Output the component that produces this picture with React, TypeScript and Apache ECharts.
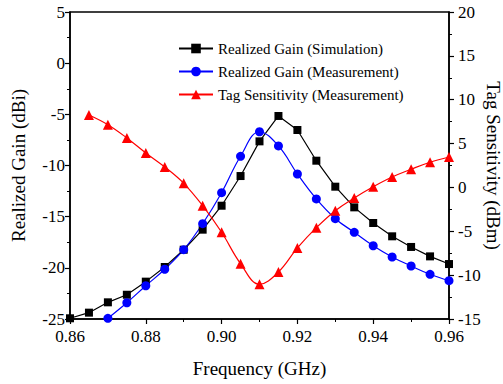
import React, { useEffect, useRef } from "react";
import * as echarts from "echarts";

const simFreq = [0.86, 0.865, 0.87, 0.875, 0.88, 0.885, 0.89, 0.895, 0.9, 0.905, 0.91, 0.915, 0.92, 0.925, 0.93, 0.935, 0.94, 0.945, 0.95, 0.955, 0.96];
const simGain = [-24.93, -24.38, -23.37, -22.63, -21.35, -19.92, -18.23, -16.27, -13.93, -11.03, -7.64, -5.16, -6.53, -9.53, -12.07, -14.09, -15.62, -16.92, -17.96, -18.88, -19.63];

const measFreq = [0.87, 0.875, 0.88, 0.885, 0.89, 0.895, 0.9, 0.905, 0.91, 0.915, 0.92, 0.925, 0.93, 0.935, 0.94, 0.945, 0.95, 0.955, 0.96];
const measGain = [-24.93, -23.41, -21.75, -20.14, -18.23, -15.69, -12.66, -9.1, -6.7, -8.09, -10.83, -13.27, -15.2, -16.53, -17.84, -18.94, -19.82, -20.63, -21.26];

const sensFreq = [0.865, 0.87, 0.875, 0.88, 0.885, 0.89, 0.895, 0.9, 0.905, 0.91, 0.915, 0.92, 0.925, 0.93, 0.935, 0.94, 0.945, 0.95, 0.955, 0.96];
const sensVal = [8.26, 7.15, 5.64, 3.93, 2.33, 0.47, -2.08, -5.11, -8.69, -11.04, -9.64, -6.9, -4.59, -2.65, -1.2, 0.08, 1.19, 2.07, 2.87, 3.47];

const seriesNames = ["Realized Gain (Simulation)", "Realized Gain (Measurement)", "Tag Sensitivity (Measurement)"];

const zip = (a: number[], b: number[]) => a.map((v, i) => [v, b[i]]);

const FONT = "Times New Roman";

export default function App() {
  const ref = useRef<HTMLDivElement>(null);
  useEffect(() => {
    if (!ref.current) return;
    const chart = echarts.init(ref.current, undefined, { renderer: "svg" });
    const mkAxis = () => ({
      axisLine: { show: true, onZero: false, lineStyle: { color: "#000", width: 1.5 } },
      axisTick: { show: true, inside: false, length: 5, lineStyle: { color: "#000", width: 1.2 } },
      minorTick: { show: true, splitNumber: 2, length: 3, lineStyle: { color: "#000", width: 1 } },
      splitLine: { show: false },
      nameMoveOverlap: false,
      nameTextStyle: { color: "#000", fontFamily: FONT, fontSize: 19, fontWeight: "normal" },
    });
    const label = (margin: number, extra: any = {}) => ({ color: "#000", fontFamily: FONT, fontSize: 17, fontWeight: "normal", margin, ...extra });
    chart.setOption({
      animation: false,
      backgroundColor: "#fff",
      textStyle: { fontFamily: FONT },
      grid: {
        left: 70, right: 54, top: 12, bottom: 65,
        outerBoundsMode: "none",
        containLabel: false,
        show: true, borderColor: "#000", borderWidth: 1.5, backgroundColor: "transparent",
      },
      legend: {
        orient: "vertical",
        left: 178,
        top: 41,
        padding: 0,
        itemWidth: 34,
        itemHeight: 12,
        itemGap: 8,
        data: seriesNames,
        textStyle: { color: "#000", fontFamily: FONT, fontSize: 15 },
      },
      xAxis: {
        type: "value",
        min: 0.86,
        max: 0.96,
        interval: 0.02,
        name: "Frequency (GHz)",
        nameLocation: "middle",
        nameGap: 40,
        ...mkAxis(),
        axisLabel: label(9, { formatter: (v: number) => v.toFixed(2) }),
      },
      yAxis: [
        {
          type: "value",
          min: -25,
          max: 5,
          interval: 5,
          name: "Realized Gain (dBi)",
          nameLocation: "middle",
          nameGap: 42,
          position: "left",
          ...mkAxis(),
          axisLabel: label(5),
        },
        {
          type: "value",
          min: -15,
          max: 20,
          interval: 5,
          name: "Tag Sensitivity (dBm)",
          nameLocation: "middle",
          nameGap: 35,
          nameRotate: -90,
          position: "right",
          ...mkAxis(),
          axisLabel: label(9),
        },
      ],
      series: [
        {
          name: seriesNames[0],
          type: "line",
          data: zip(simFreq, simGain),
          symbol: "rect",
          symbolSize: 8,
          itemStyle: { color: "#000" },
          lineStyle: { color: "#000", width: 1.2 },
          yAxisIndex: 0,
        },
        {
          name: seriesNames[1],
          type: "line",
          data: zip(measFreq, measGain),
          symbol: "circle",
          symbolSize: 9,
          smooth: 0.4,
          itemStyle: { color: "#0000ff" },
          lineStyle: { color: "#0000ff", width: 1.2 },
          yAxisIndex: 0,
        },
        {
          name: seriesNames[2],
          type: "line",
          data: zip(sensFreq, sensVal),
          symbol: "triangle",
          symbolSize: 10,
          smooth: 0.4,
          itemStyle: { color: "#ff0000" },
          lineStyle: { color: "#ff0000", width: 1.2 },
          yAxisIndex: 1,
        },
      ],
    });
    return () => chart.dispose();
  }, []);
  return <div ref={ref} style={{ width: 503, height: 384, position: "absolute", left: 0, top: 0 }} />;
}
